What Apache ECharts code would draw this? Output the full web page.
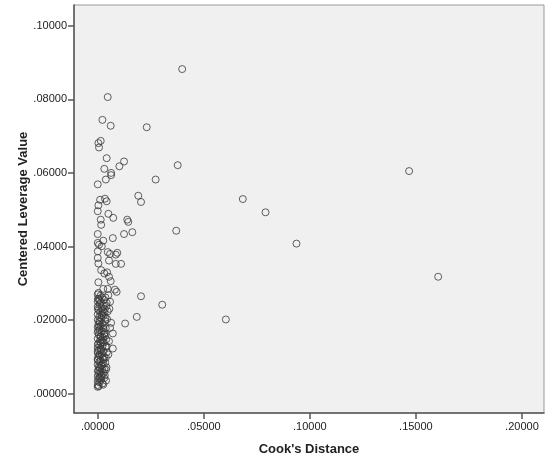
<!DOCTYPE html>
<html>
<head>
<meta charset="utf-8">
<script src="https://cdn.jsdelivr.net/npm/echarts@6/dist/echarts.min.js"></script>
<style>
  html, body { margin: 0; padding: 0; background: #fff; }
  #chart { width: 546px; height: 456px; }
</style>
</head>
<body>
<div id="chart"></div>
<script>
// tick labels
var xTicks = [0, 0.05, 0.10, 0.15, 0.20]
var yTicks = [0, 0.02, 0.04, 0.06, 0.08, 0.10]

// Cook's Distance (x) / Centered Leverage Value (y)
var cooks = [
  0.0398, 0.0047, 0.0022, 0.0061, 0.0231, 0.0014, 0.0003, 0.0006, 0.0042, 0.0124,
  0.0102, 0.0377, 0.0031, 0.1468, 0.0063, 0.0063, 0.0038, 0.0273, 0.0000, 0.0191,
  0.0034, 0.0684, 0.0011, 0.0042, 0.0204, 0.0003, 0.0000, 0.0791, 0.0050, 0.0073,
  0.0014, 0.0139, 0.0144, 0.0016, 0.0370, 0.0000, 0.0124, 0.0163, 0.0071, 0.0026,
  0.0000, 0.0937, 0.0006, 0.0019, 0.0000, 0.0047, 0.0058, 0.0092, 0.0085, 0.0000,
  0.0053, 0.0003, 0.0085, 0.0110, 0.0016, 0.0044, 0.0031, 0.1605, 0.0053, 0.0061,
  0.0003, 0.0026, 0.0047, 0.0081, 0.0089, 0.0003, 0.0204, 0.0304, 0.0184, 0.0129,
  0.0604, 0.0071, 0.0071,
  // right edge of the dense column
  0.0047, 0.0058, 0.0042, 0.0050, 0.0031, 0.0042, 0.0055, 0.0063, 0.0034, 0.0053,
  0.0038, 0.0039, 0.0031, 0.0058, 0.0050,
  // dense column near zero
  0.0000, 0.0012, 0.0020, 0.0005, 0.0030, 0.0000, 0.0015, 0.0008, 0.0025, 0.0000,
  0.0018, 0.0033, 0.0004, 0.0011, 0.0022, 0.0000, 0.0028, 0.0007, 0.0016, 0.0000,
  0.0035, 0.0010, 0.0021, 0.0003, 0.0014, 0.0000, 0.0026, 0.0008, 0.0019, 0.0000,
  0.0031, 0.0005, 0.0013, 0.0024, 0.0000, 0.0017, 0.0009, 0.0029, 0.0002, 0.0012,
  0.0022, 0.0000, 0.0015, 0.0006, 0.0027, 0.0000, 0.0019, 0.0010, 0.0003, 0.0023,
  0.0000, 0.0014, 0.0007, 0.0025, 0.0000, 0.0017, 0.0004, 0.0011, 0.0021, 0.0000,
  0.0013, 0.0006, 0.0019, 0.0000, 0.0010, 0.0003, 0.0016, 0.0000, 0.0008, 0.0022,
  0.0000, 0.0026, 0.0005, 0.0000,
  0.0036, 0.0009, 0.0041, 0.0001, 0.0032, 0.0018, 0.0044, 0.0006, 0.0027, 0.0038,
  0.0002, 0.0034, 0.0013, 0.0040, 0.0024, 0.0001, 0.0037, 0.0016, 0.0043, 0.0008,
  0.0030, 0.0000, 0.0035, 0.0020, 0.0041, 0.0004, 0.0028, 0.0033, 0.0011, 0.0039,
  0.0001, 0.0023, 0.0036, 0.0007, 0.0030, 0.0015, 0.0000, 0.0027, 0.0009, 0.0018
]
var leverage = [
  0.0882, 0.0806, 0.0744, 0.0728, 0.0724, 0.0687, 0.0681, 0.0669, 0.0640, 0.0631,
  0.0618, 0.0621, 0.0611, 0.0605, 0.0600, 0.0594, 0.0582, 0.0582, 0.0569, 0.0538,
  0.0530, 0.0529, 0.0527, 0.0523, 0.0521, 0.0512, 0.0496, 0.0493, 0.0489, 0.0478,
  0.0473, 0.0473, 0.0467, 0.0459, 0.0443, 0.0434, 0.0434, 0.0439, 0.0423, 0.0416,
  0.0410, 0.0408, 0.0405, 0.0401, 0.0387, 0.0385, 0.0380, 0.0383, 0.0378, 0.0369,
  0.0362, 0.0354, 0.0353, 0.0353, 0.0336, 0.0330, 0.0327, 0.0318, 0.0318, 0.0306,
  0.0303, 0.0285, 0.0285, 0.0283, 0.0277, 0.0274, 0.0265, 0.0242, 0.0209, 0.0191,
  0.0202, 0.0164, 0.0123,
  0.0224, 0.0179, 0.0129, 0.0107, 0.0066, 0.0247, 0.0231, 0.0193, 0.0156, 0.0143,
  0.0098, 0.0066, 0.0043, 0.0250, 0.0268,
  0.0270, 0.0266, 0.0262, 0.0258, 0.0255, 0.0251, 0.0248, 0.0244, 0.0240, 0.0237,
  0.0233, 0.0230, 0.0227, 0.0223, 0.0219, 0.0216, 0.0212, 0.0209, 0.0205, 0.0201,
  0.0198, 0.0195, 0.0191, 0.0188, 0.0184, 0.0181, 0.0177, 0.0174, 0.0170, 0.0167,
  0.0163, 0.0160, 0.0157, 0.0153, 0.0150, 0.0146, 0.0143, 0.0139, 0.0136, 0.0132,
  0.0129, 0.0125, 0.0122, 0.0118, 0.0115, 0.0111, 0.0108, 0.0104, 0.0101, 0.0097,
  0.0094, 0.0090, 0.0087, 0.0083, 0.0080, 0.0076, 0.0073, 0.0069, 0.0066, 0.0062,
  0.0059, 0.0055, 0.0052, 0.0048, 0.0045, 0.0041, 0.0038, 0.0034, 0.0031, 0.0028,
  0.0024, 0.0025, 0.0021, 0.0019,
  0.0262, 0.0254, 0.0239, 0.0231, 0.0221, 0.0214, 0.0203, 0.0196, 0.0186, 0.0178,
  0.0171, 0.0165, 0.0155, 0.0148, 0.0141, 0.0134, 0.0127, 0.0119, 0.0113, 0.0106,
  0.0099, 0.0092, 0.0085, 0.0078, 0.0072, 0.0064, 0.0057, 0.0050, 0.0043, 0.0036,
  0.0258, 0.0226, 0.0207, 0.0182, 0.0161, 0.0138, 0.0116, 0.0093, 0.0071, 0.0047
]

var points = cooks.map((x, i) => [x, leverage[i]])

var fmt = v => v.toFixed(5).replace(/^0/, '')
var labelStyle = { fontFamily: 'Liberation Sans', fontSize: 11, color: '#222' }
var titleStyle = { fontFamily: 'Liberation Sans', fontSize: 13, fontWeight: 'bold', color: '#222' }

var chart = echarts.init(document.getElementById('chart'))
chart.setOption({
  animation: false,
  backgroundColor: '#fff',
  grid: {
    show: true,
    left: 74,
    right: 2,
    top: 5,
    bottom: 43,
    outerBoundsMode: 'none',
    backgroundColor: '#f0f0f0',
    borderColor: '#999',
    borderWidth: 1
  },
  xAxis: {
    type: 'value',
    min: -0.0112,
    max: 0.2104,
    name: "Cook's Distance",
    nameLocation: 'middle',
    nameGap: 30,
    nameMoveOverlap: false,
    nameTextStyle: titleStyle,
    axisLine: { show: true, onZero: false, lineStyle: { color: '#555', width: 1.5 } },
    axisTick: { show: true, customValues: xTicks, length: 6, lineStyle: { color: '#555', width: 1.5 } },
    axisLabel: Object.assign({ customValues: xTicks, margin: 8, formatter: fmt }, labelStyle),
    splitLine: { show: false }
  },
  yAxis: {
    type: 'value',
    min: -0.0052,
    max: 0.1056,
    name: 'Centered Leverage Value',
    nameLocation: 'middle',
    nameGap: 44,
    nameMoveOverlap: false,
    nameTextStyle: titleStyle,
    axisLine: { show: true, onZero: false, lineStyle: { color: '#555', width: 1.5 } },
    axisTick: { show: true, customValues: yTicks, length: 6, lineStyle: { color: '#555', width: 1.5 } },
    axisLabel: Object.assign({ customValues: yTicks, margin: 7, formatter: fmt }, labelStyle),
    splitLine: { show: false }
  },
  series: [
    {
      type: 'scatter',
      data: points,
      symbol: 'circle',
      symbolSize: 7,
      itemStyle: {
        color: 'rgba(0,0,0,0)',
        borderColor: '#3a3a3a',
        borderWidth: 1
      }
    }
  ]
})
</script>
</body>
</html>
